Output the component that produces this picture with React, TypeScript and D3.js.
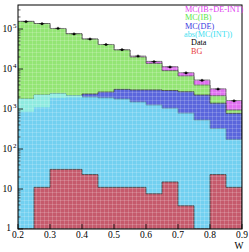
import React from "react";
import * as d3 from "d3";

const edges = [0.2, 0.25, 0.3, 0.35, 0.4, 0.45, 0.5, 0.55, 0.6, 0.65, 0.7, 0.75, 0.8, 0.85, 0.9];
const total = [155000, 137000, 103000, 76000, 56000, 41000, 30000, 21000, 15500, 11400, 8100, 5300, 3200, 1630];
const ib = [155000, 137000, 103000, 76000, 56000, 41000, 30000, 20000, 13800, 9100, 6700, 4000, 2140, 944];
const de = [850, 1100, 1900, 1950, 2370, 2660, 3100, 3000, 3000, 2900, 2700, 2240, 1400, 780];
const intAbs = [1780, 2240, 2400, 2150, 2000, 1900, 1780, 1500, 1260, 1050, 790, 530, 325, 174];
const bg = [0, 11, 31, 31, 23, 11, 11, 11, 7.6, 15, 3.8, 0, 23, 11];
const data = [153000, 136000, 104000, 75000, 56000, 41000, 30500, 21000, 15300, 11200, 8000, 5200, 3150, 1600];
const xTicks = [0.2, 0.3, 0.4, 0.5, 0.6, 0.7, 0.8, 0.9];
const yDecades = [0, 1, 2, 3, 4, 5];
const legendItems = ["MC(IB+DE-INT)", "MC(IB)", "MC(DE)", "abs(MC(INT))", "Data", "BG"];

const L = 18, R = 242, T = 5, B = 229;
const FONT = "'Liberation Serif', 'DejaVu Serif', serif";

export default function App() {
  const x = d3.scaleLinear().domain([0.2, 0.9]).range([L, R]);
  const y = d3.scaleLog().domain([1, Math.pow(10, 5.6)]).range([B, T]).clamp(true);

  const stepArea = (vals: number[]) => {
    const pts: [number, number][] = vals.map((v, i) => [edges[i], v]);
    pts.push([edges[vals.length], vals[vals.length - 1]]);
    return d3
      .area<[number, number]>()
      .x((d) => x(d[0]))
      .y0(B)
      .y1((d) => y(Math.max(d[1], 1)))
      .curve(d3.curveStepAfter)(pts) as string;
  };

  const hist = (vals: number[], fill: string, stroke: string, key: string) => (
    <path key={key} d={stepArea(vals)} fill={fill} stroke={stroke} strokeWidth={0.8} />
  );

  const legendColors = ["#e040f0", "#5ae64a", "#3a3ae0", "#3ee0f0", "#000000", "#e84040"];
  const legendX = [185, 185, 185, 184, 191, 191];

  const minorTicks: number[] = [];
  yDecades.slice(0, 6).forEach((p) => {
    for (let k = 2; k <= 9; k++) {
      const v = k * Math.pow(10, p);
      if (v < Math.pow(10, 5.6)) minorTicks.push(v);
    }
  });

  return (
    <svg width={249} height={252} style={{ position: "absolute", left: 0, top: 0, background: "#fff" }}>
      <defs>
        <pattern id="grid" width={4} height={4} patternUnits="userSpaceOnUse">
          <path d="M0 0.5 H4 M0.5 0 V4" stroke="#ffffff" strokeWidth={0.8} strokeOpacity={0.22} fill="none" />
        </pattern>
        <clipPath id="plot">
          <rect x={L} y={T} width={R - L} height={B - T} />
        </clipPath>
      </defs>
      <g clipPath="url(#plot)">
        {hist(total, "#e070f0", "#555", "tot")}
        {hist(ib, "#93e574", "#555", "ib")}
        {hist(de, "#5a66dc", "#444", "de")}
        {hist(intAbs, "#72d0f0", "#5a8aa0", "int")}
        {intAbs.map((v, i) =>
          v > de[i] ? (
            <rect
              key={"pale" + i}
              x={x(edges[i])}
              y={y(v)}
              width={x(edges[i + 1]) - x(edges[i])}
              height={y(de[i]) - y(v)}
              fill="#8eeadf"
            />
          ) : null
        )}
        {hist(bg, "#c55a6c", "#444", "bg")}
        <rect x={L} y={T} width={R - L} height={B - T} fill="url(#grid)" />
        {data.map((v, i) => {
          const cx = x((edges[i] + edges[i + 1]) / 2);
          const cy = y(v);
          return (
            <g key={"d" + i}>
              <line x1={cx - 2.5} x2={cx + 2.5} y1={cy} y2={cy} stroke="#000" strokeWidth={0.8} />
              <line x1={cx} x2={cx} y1={cy - 1.5} y2={cy + 1.5} stroke="#000" strokeWidth={0.8} />
              <path d={`M${cx - 1.4},${cy + 1} L${cx + 1.4},${cy + 1} L${cx},${cy - 1.4} Z`} fill="#000" />
            </g>
          );
        })}
      </g>
      <rect x={L} y={T} width={R - L} height={B - T} fill="none" stroke="#000" strokeWidth={1} />
      {yDecades.map((p) => (
        <line key={"ym" + p} x1={L} x2={L + 5} y1={y(Math.pow(10, p))} y2={y(Math.pow(10, p))} stroke="#000" strokeWidth={0.8} />
      ))}
      {minorTicks.map((v, i) => (
        <line key={"yn" + i} x1={L} x2={L + 2.5} y1={y(v)} y2={y(v)} stroke="#000" strokeWidth={0.6} />
      ))}
      {xTicks.map((t) => (
        <line key={"xt" + t} x1={x(t)} x2={x(t)} y1={B} y2={B - 5} stroke="#000" strokeWidth={0.8} />
      ))}
      {xTicks.map((t) => (
        <text key={"xl" + t} x={x(t)} y={238} fontSize={9.5} fontFamily={FONT} textAnchor="middle" fill="#000">
          {d3.format(".1f")(t)}
        </text>
      ))}
      <text x={239} y={249} fontSize={9.5} fontFamily={FONT} textAnchor="middle" fill="#000">W</text>
      {yDecades.map((p) => {
        const yy = y(Math.pow(10, p));
        if (p === 0)
          return (
            <text key={"yl" + p} x={11} y={yy + 2} fontSize={9.5} fontFamily={FONT} textAnchor="end">1</text>
          );
        if (p === 1)
          return (
            <text key={"yl" + p} x={12} y={yy + 3} fontSize={9.5} fontFamily={FONT} textAnchor="end">10</text>
          );
        return (
          <g key={"yl" + p}>
            <text x={12} y={yy + 3} fontSize={9.5} fontFamily={FONT} textAnchor="end">10</text>
            <text x={13} y={yy - 1} fontSize={7} fontFamily={FONT} textAnchor="start">{p}</text>
          </g>
        );
      })}
      {legendItems.map((s, i) => (
        <text key={"lg" + i} x={legendX[i]} y={12 + i * 8.3} fontSize={8.2} fontFamily={FONT} fill={legendColors[i]}>
          {s}
        </text>
      ))}
    </svg>
  );
}
